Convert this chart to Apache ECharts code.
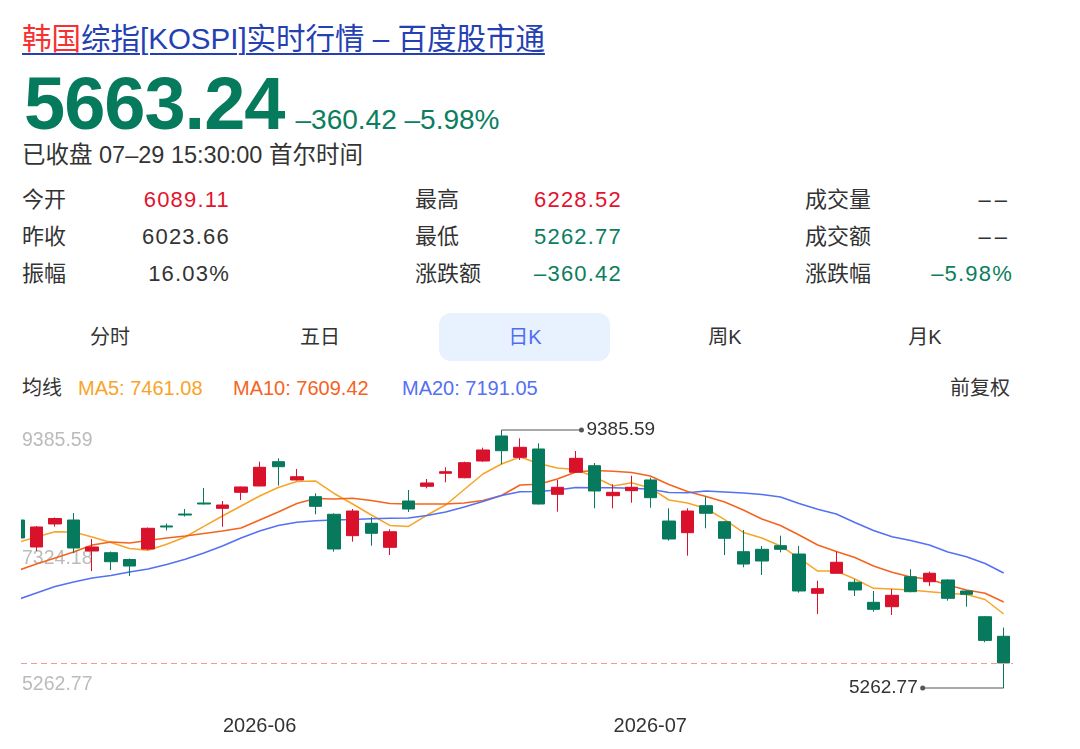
<!DOCTYPE html>
<html>
<head>
<meta charset="utf-8">
<script src="https://cdn.jsdelivr.net/npm/echarts@6/dist/echarts.min.js"></script>
<style>
  html, body { margin: 0; padding: 0; background: #fff; }
  body { width: 1080px; height: 749px; position: relative; overflow: hidden;
         font-family: "Liberation Sans", Arial, "Noto Sans CJK SC", sans-serif; color: #333; }
  .abs { position: absolute; white-space: nowrap; }
  .title { left: 22px; top: 21px; font-size: 29.5px; line-height: 36px; color: #2440b3;
           text-decoration: underline; text-decoration-thickness: 2px; text-underline-offset: 4px; }
  .title .hl { color: #f73131; }
  .price { left: 24px; top: 67px; line-height: 74px; }
  .price .big { font-size: 74px; font-weight: bold; color: #067a5c; letter-spacing: -1px; }
  .price .chg { font-size: 28px; color: #0b7e60; margin-left: 11px; }
  .status { left: 22px; top: 142px; font-size: 23.5px; line-height: 26px; }
  .row { font-size: 22px; line-height: 26px; }
  .val { text-align: right; width: 112px; letter-spacing: 1.2px; }
  .red { color: #e3132f; }
  .green { color: #0b7e60; }
  .tabbox { left: 439px; top: 313px; width: 171px; height: 48px; border-radius: 12px; background: #e8f1fe; }
  .tab { top: 324px; font-size: 20px; line-height: 26px; width: 100px; text-align: center; }
  .legend { top: 375px; font-size: 20px; line-height: 26px; }
  #chart { position: absolute; left: 21px; top: 410px; width: 1059px; height: 339px; }
</style>
</head>
<body>
<div class="abs title"><span class="hl">韩国</span>综指[KOSPI]实时行情 – 百度股市通</div>
<div class="abs price"><span class="big">5663.24</span><span class="chg">–360.42 –5.98%</span></div>
<div class="abs status">已收盘 07–29 15:30:00 首尔时间</div>

<div class="abs row" style="left:22px;top:187px">今开</div>
<div class="abs row val red" style="left:118px;top:187px">6089.11</div>
<div class="abs row" style="left:22px;top:224px">昨收</div>
<div class="abs row val" style="left:118px;top:224px">6023.66</div>
<div class="abs row" style="left:22px;top:261px">振幅</div>
<div class="abs row val" style="left:118px;top:261px">16.03%</div>

<div class="abs row" style="left:415px;top:187px">最高</div>
<div class="abs row val red" style="left:510px;top:187px">6228.52</div>
<div class="abs row" style="left:415px;top:224px">最低</div>
<div class="abs row val green" style="left:510px;top:224px">5262.77</div>
<div class="abs row" style="left:415px;top:261px">涨跌额</div>
<div class="abs row val green" style="left:510px;top:261px">–360.42</div>

<div class="abs row" style="left:805px;top:187px">成交量</div>
<div class="abs row val" style="left:899px;top:187px;letter-spacing:4px">––</div>
<div class="abs row" style="left:805px;top:224px">成交额</div>
<div class="abs row val" style="left:899px;top:224px;letter-spacing:4px">––</div>
<div class="abs row" style="left:805px;top:261px">涨跌幅</div>
<div class="abs row val green" style="left:901px;top:261px">–5.98%</div>

<div class="abs tabbox"></div>
<div class="abs tab" style="left:60px">分时</div>
<div class="abs tab" style="left:270px">五日</div>
<div class="abs tab" style="left:475px;color:#4e6ef2">日K</div>
<div class="abs tab" style="left:675px">周K</div>
<div class="abs tab" style="left:875px">月K</div>

<div class="abs legend" style="left:22px">均线</div>
<div class="abs legend" style="left:78px;color:#f8a428">MA5: 7461.08</div>
<div class="abs legend" style="left:233px;color:#f5641e">MA10: 7609.42</div>
<div class="abs legend" style="left:402px;color:#5470f3">MA20: 7191.05</div>
<div class="abs legend" style="left:950px">前复权</div>

<div id="chart"></div>
<script>
// 交易日
var dates = [
  '2026-05-12', '2026-05-13', '2026-05-14', '2026-05-15', '2026-05-18', '2026-05-19', '2026-05-20',
  '2026-05-21', '2026-05-22', '2026-05-26', '2026-05-27', '2026-05-28', '2026-05-29',
  '2026-06-01', '2026-06-02', '2026-06-04', '2026-06-05', '2026-06-08', '2026-06-09', '2026-06-10',
  '2026-06-11', '2026-06-12', '2026-06-15', '2026-06-16', '2026-06-17', '2026-06-18', '2026-06-19',
  '2026-06-22', '2026-06-23', '2026-06-24', '2026-06-25', '2026-06-26', '2026-06-29', '2026-06-30',
  '2026-07-01', '2026-07-02', '2026-07-03', '2026-07-06', '2026-07-07', '2026-07-08', '2026-07-09',
  '2026-07-10', '2026-07-13', '2026-07-14', '2026-07-15', '2026-07-16', '2026-07-20', '2026-07-21',
  '2026-07-22', '2026-07-23', '2026-07-24', '2026-07-27', '2026-07-28', '2026-07-29'
];
var openVals = [
  7947, 7516, 7884, 7947, 7452, 7425, 7316, 7484, 7852, 8043, 8219, 8134, 8390,
  8491, 8879, 8587, 8320, 8039, 7697, 7895, 7511, 8251, 8486, 8694, 8623, 8890, 9290,
  8949, 9082, 8358, 8710, 8815, 8336, 8416,
  8587, 7931, 7745, 8176, 7920, 7441, 7479, 7537, 7404, 6776, 7096, 6952, 6632, 6562,
  7041, 6961, 6989, 6813, 6402, 6089.11
];
var closeVals = [
  7660, 7836, 7971, 7500, 7516, 7281, 7212, 7815, 7836, 8027, 8203, 8187, 8475,
  8790, 8799, 8639, 8166, 7484, 8091, 7735, 7760, 8123, 8539, 8719, 8863, 9066, 9055,
  9109, 8203, 8470, 8933, 8411, 8390, 8470,
  8304, 7644, 8091, 8055, 7655, 7244, 7292, 7479, 6813, 6850, 7272, 6829, 6520, 6744,
  6802, 7096, 6696, 6760, 6023.66, 5663.24
];
var lowVals = [
  7628, 7452, 7843, 7420, 7132, 7148, 7053, 7468, 7780, 8003, 8195, 7840, 8267,
  8485, 8496, 8580, 8039, 7441, 7601, 7537, 7388, 8075, 8454, 8550, 8614, 8879, 8837,
  8906, 8195, 8080, 8705, 8134, 8134, 8224,
  8144, 7617, 7377, 7815, 7388, 7192, 7069, 7431, 6786, 6445, 7090, 6733, 6482, 6429,
  6792, 6893, 6658, 6562, 5993, 5262.77
];
var highVals = [
  7979, 7852, 7987, 8059, 7644, 7444, 7332, 7827, 7891, 8123, 8459, 8251, 8480,
  8879, 8933, 8762, 8374, 8055, 8123, 7991, 7799, 8427, 8603, 8790, 8879, 9103, 9385.59,
  9253, 9173, 8587, 9050, 8858, 8518, 8655,
  8624, 8134, 8134, 8320, 7931, 7788, 7532, 7697, 7532, 6977, 7441, 7000, 6813, 6845,
  7160, 7121, 7000, 6820, 6413, 6228.52
];
var ma5Vals = [
  7588, 7676, 7760, 7757, 7676, 7588, 7492, 7463, 7559, 7676, 7844, 8011, 8171,
  8331, 8467, 8563, 8571, 8371, 8203, 8027, 7860, 7844, 8027, 8187, 8435, 8683, 8842,
  8954, 8850, 8778, 8754, 8635, 8491, 8544,
  8459, 8267, 8219, 8131, 7955, 7748, 7660, 7532, 7340, 7132, 7132, 7005, 6856, 6845,
  6829, 6802, 6776, 6757, 6677, 6445
];
var ma10Vals = [
  7140, 7244, 7340, 7436, 7548, 7596, 7580, 7620, 7660, 7692, 7732, 7772, 7820,
  7947, 8075, 8211, 8291, 8283, 8294, 8259, 8211, 8203, 8203, 8203, 8219, 8259, 8339,
  8507, 8518, 8603, 8714, 8738, 8726, 8706,
  8651, 8515, 8403, 8323, 8235, 8107, 7963, 7860, 7708, 7548, 7444, 7348, 7212, 7112,
  7037, 7000, 6909, 6829, 6776, 6637
];
var ma20Vals = [
  6677, 6781, 6885, 6957, 7021, 7061, 7116, 7164, 7236, 7319, 7420, 7532, 7660,
  7772, 7860, 7911, 7936, 7947, 7955, 7967, 7975, 7978, 8019, 8075, 8155, 8243, 8339,
  8400, 8403, 8427, 8467, 8464, 8464, 8454,
  8438, 8387, 8384, 8411, 8395, 8379, 8355, 8315, 8211, 8118, 8043, 7907, 7780, 7680,
  7620, 7548, 7436, 7361, 7252, 7100
];
var yTicks = [5262.77, 7324.18, 9385.59];
var monthTicks = ['2026-06', '2026-07'];
var lastClose = 5663.24;

var upColor = '#d9112b';
var downColor = '#077a5d';

var candles = dates.map(function (d, i) {
  return [i, openVals[i], closeVals[i], lowVals[i], highVals[i]];
});
function withIndex(arr) {
  return arr.map(function (v, i) { return [i, v]; });
}
var monthIdx = monthTicks.map(function (m) {
  for (var i = 0; i < dates.length; i++) if (dates[i].indexOf(m) === 0) return i;
  return 0;
});

function maLine(name, vals, color) {
  return {
    name: name, type: 'line', data: withIndex(vals), showSymbol: false, silent: true,
    lineStyle: { color: color, width: 1.5 }, z: 3
  };
}

var numFont = 'Liberation Sans, Arial, sans-serif';
var myChart = echarts.init(document.getElementById('chart'));
var option = {
  animation: false,
  grid: { left: 0, top: 20, width: 992, height: 258, outerBoundsMode: 'none' },
  xAxis: {
    type: 'value', min: 0.17, max: 53.5,
    axisLine: { show: false }, axisTick: { show: false }, splitLine: { show: false },
    axisLabel: {
      customValues: monthIdx, margin: 28, color: '#333', fontSize: 20, fontFamily: numFont,
      formatter: function (v) { return dates[Math.round(v)].slice(0, 7); }
    }
  },
  yAxis: {
    type: 'value', min: yTicks[0], max: yTicks[2], scale: true,
    axisLine: { show: false }, axisTick: { show: false }, splitLine: { show: false },
    axisLabel: {
      inside: true, margin: 1, customValues: yTicks, showMinLabel: true, showMaxLabel: true,
      formatter: function (v) {
        var t = v.toFixed(2);
        if (v === yTicks[2]) return '{t|' + t + '}';
        if (v === yTicks[0]) return '{b|' + t + '}';
        return '{m|' + t + '}';
      },
      rich: {
        t: { color: '#bbb', fontSize: 19.5, padding: [22, 0, 0, 0], fontFamily: numFont },
        m: { color: '#bbb', fontSize: 19.5, padding: [0, 0, 0, 0], fontFamily: numFont },
        b: { color: '#bbb', fontSize: 19.5, padding: [0, 0, 6, 0], fontFamily: numFont }
      }
    }
  },
  series: [
    {
      name: '日K', type: 'candlestick', data: candles, encode: { x: 0, y: [1, 2, 3, 4] },
      barWidth: 13, clip: true, z: 4,
      itemStyle: { color: upColor, color0: downColor, borderColor: upColor, borderColor0: downColor, borderWidth: 1 },
      markLine: {
        silent: true, symbol: 'none', label: { show: false },
        lineStyle: { color: '#f29a9a', type: [6, 4], width: 1 },
        data: [{ yAxis: lastClose }]
      }
    },
    maLine('MA5', ma5Vals, '#f8a428'),
    maLine('MA10', ma10Vals, '#f5641e'),
    maLine('MA20', ma20Vals, '#5470f3')
  ]
};
myChart.setOption(option);

// 最高/最低标注
var hiIdx = highVals.indexOf(Math.max.apply(null, highVals));
var loIdx = lowVals.indexOf(Math.min.apply(null, lowVals));
var pHi = myChart.convertToPixel({ gridIndex: 0 }, [hiIdx, highVals[hiIdx]]);
var pLo = myChart.convertToPixel({ gridIndex: 0 }, [loIdx, lowVals[loIdx]]);
var markFont = { fontSize: 19, fontFamily: numFont, fill: '#333' };
myChart.setOption({
  graphic: [
    { type: 'line', shape: { x1: pHi[0], y1: pHi[1], x2: pHi[0] + 80, y2: pHi[1] }, style: { stroke: '#555', lineWidth: 1 }, z: 10 },
    { type: 'circle', shape: { cx: pHi[0] + 80, cy: pHi[1], r: 2.5 }, style: { fill: '#555' }, z: 10 },
    { type: 'text', x: pHi[0] + 85, y: pHi[1], style: Object.assign({ text: highVals[hiIdx].toFixed(2), verticalAlign: 'middle', align: 'left' }, markFont), z: 10 },
    { type: 'line', shape: { x1: pLo[0], y1: pLo[1], x2: pLo[0] - 81, y2: pLo[1] }, style: { stroke: '#555', lineWidth: 1 }, z: 10 },
    { type: 'circle', shape: { cx: pLo[0] - 81, cy: pLo[1], r: 2.5 }, style: { fill: '#555' }, z: 10 },
    { type: 'text', x: pLo[0] - 86, y: pLo[1], style: Object.assign({ text: lowVals[loIdx].toFixed(2), verticalAlign: 'middle', align: 'right' }, markFont), z: 10 }
  ]
});
</script>
</body>
</html>
